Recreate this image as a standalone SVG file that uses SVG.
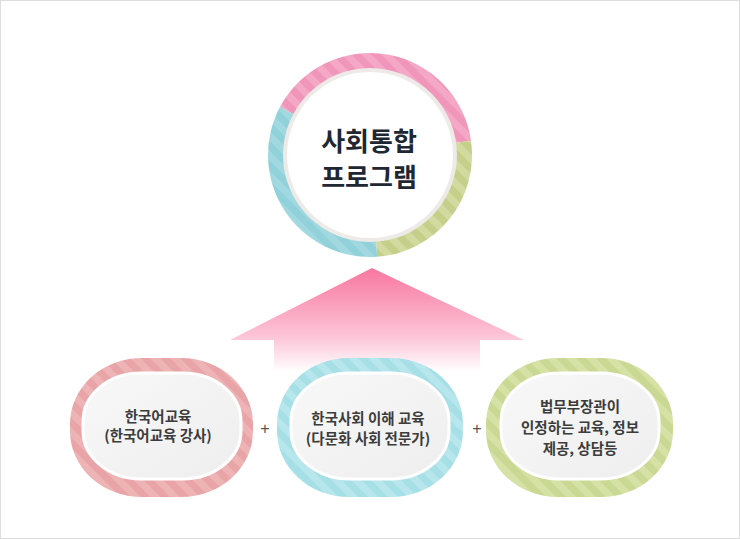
<svg xmlns="http://www.w3.org/2000/svg" width="740" height="539" viewBox="0 0 740 539">
<defs>
<style>
.t{font-family:"Noto Sans CJK KR","Noto Sans",sans-serif;font-weight:bold;text-anchor:middle}
.ct{font-size:26px;fill:#1f2733}
.nt{font-size:14.5px;fill:#3c3c3c}
.plus{font-family:"Liberation Sans",sans-serif;font-size:16px;fill:#555;text-anchor:middle}
.inner{stroke:#ffffff;stroke-width:3}
</style>
<pattern id="pPink" width="14" height="14" patternUnits="userSpaceOnUse" patternTransform="rotate(-45)"><rect width="14" height="14" fill="#f4a8c6"/><rect width="7" height="14" fill="#f096ba"/></pattern>
<pattern id="pTeal" width="14" height="14" patternUnits="userSpaceOnUse" patternTransform="rotate(-45)"><rect width="14" height="14" fill="#a2d9e1"/><rect width="7" height="14" fill="#90d1da"/></pattern>
<pattern id="pGreen" width="14" height="14" patternUnits="userSpaceOnUse" patternTransform="rotate(-45)"><rect width="14" height="14" fill="#d2daa0"/><rect width="7" height="14" fill="#c5cf8a"/></pattern>
<pattern id="pRed" width="14" height="14" patternUnits="userSpaceOnUse" patternTransform="rotate(-45)"><rect width="14" height="14" fill="#eeb4b5"/><rect width="7" height="14" fill="#e8a4a6"/></pattern>
<pattern id="pCyan" width="14" height="14" patternUnits="userSpaceOnUse" patternTransform="rotate(-45)"><rect width="14" height="14" fill="#b7e6ed"/><rect width="7" height="14" fill="#a7dfe7"/></pattern>
<pattern id="pLime" width="14" height="14" patternUnits="userSpaceOnUse" patternTransform="rotate(-45)"><rect width="14" height="14" fill="#d5e1a5"/><rect width="7" height="14" fill="#c9d892"/></pattern>
<linearGradient id="gArrow" x1="0" y1="0" x2="0" y2="1"><stop offset="0" stop-color="#f8779f"/><stop offset="0.65" stop-color="#fcc3d6"/><stop offset="1" stop-color="#ffffff"/></linearGradient>
<linearGradient id="gInner" x1="0" y1="0" x2="1" y2="1"><stop offset="0" stop-color="#f8f8f8"/><stop offset="1" stop-color="#eeeeee"/></linearGradient>
</defs>
<rect x="0.5" y="0.5" width="739" height="538" fill="#ffffff" stroke="#dddddd"/>
<g id="connectors">
<path d="M372 268 L524 340 L480 340 L480 372 L274 372 L274 340 L230 340 Z" fill="url(#gArrow)"/>
<text class="plus" x="265" y="434">+</text>
<text class="plus" x="477" y="434">+</text>
</g>
<g id="center">
<path d="M370 155 L279.94 107.11 A102 102 0 0 1 471.01 140.80 Z" fill="url(#pPink)"/>
<path d="M370 155 L471.01 140.80 A102 102 0 0 1 377.12 256.75 Z" fill="url(#pGreen)"/>
<path d="M370 155 L377.12 256.75 A102 102 0 0 1 279.94 107.11 Z" fill="url(#pTeal)"/>
<circle cx="370" cy="155" r="87" fill="#eeeae7"/>
<circle cx="370" cy="155" r="83" fill="#ffffff"/>
<text class="t ct" x="369" y="151">사회통합</text>
<text class="t ct" x="369" y="187">프로그램</text>
</g>
<g id="node1">
<rect x="70" y="358" width="183" height="139" rx="72" ry="66" fill="url(#pRed)"/>
<rect x="83" y="373" width="158" height="106" rx="58" ry="48" fill="url(#gInner)" class="inner"/>
<text class="t nt" x="158" y="422">한국어교육</text>
<text class="t nt" x="158" y="441">(한국어교육 강사)</text>
</g>
<g id="node2">
<rect x="277" y="358" width="186" height="139" rx="72" ry="66" fill="url(#pCyan)"/>
<rect x="291" y="373" width="158" height="106" rx="58" ry="48" fill="url(#gInner)" class="inner"/>
<text class="t nt" x="368" y="424">한국사회 이해 교육</text>
<text class="t nt" x="368" y="444">(다문화 사회 전문가)</text>
</g>
<g id="node3">
<rect x="486" y="358" width="187" height="139" rx="72" ry="66" fill="url(#pLime)"/>
<rect x="501" y="373" width="158" height="106" rx="58" ry="48" fill="url(#gInner)" class="inner"/>
<text class="t nt" x="580" y="412">법무부장관이</text>
<text class="t nt" x="580" y="433">인정하는 교육, 정보</text>
<text class="t nt" x="580" y="454">제공, 상담등</text>
</g>
</svg>
